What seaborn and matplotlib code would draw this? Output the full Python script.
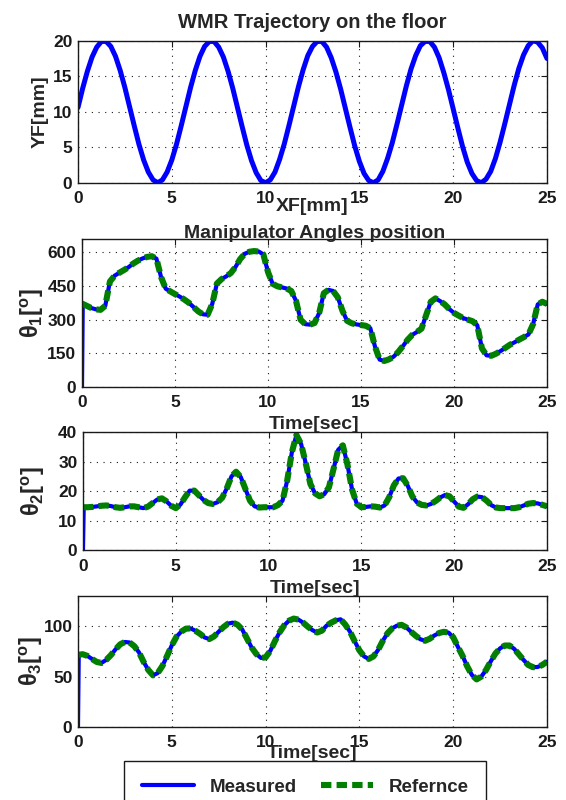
import numpy as np
import matplotlib
matplotlib.use("Agg")
import matplotlib.pyplot as plt
import seaborn as sns

# ----------------------------
# Data
# ----------------------------
# WMR trajectory on the floor, sampled every 0.25 mm of XF
xf = np.linspace(0, 25, 101)
yf = [10.6, 13.3, 15.7, 17.7, 19.1, 19.9, 19.9, 19.2, 17.8, 15.8,
      13.4, 10.7, 8.0, 5.4, 3.2, 1.5, 0.4, 0.0, 0.4, 1.5,
      3.2, 5.4, 8.0, 10.7, 13.4, 15.8, 17.8, 19.2, 19.9, 19.9,
      19.1, 17.7, 15.7, 13.3, 10.6, 7.9, 5.3, 3.1, 1.4, 0.3,
      0.0, 0.4, 1.5, 3.3, 5.5, 8.1, 10.8, 13.5, 15.9, 17.9,
      19.2, 19.9, 19.9, 19.1, 17.6, 15.6, 13.2, 10.5, 7.8, 5.2,
      3.0, 1.3, 0.3, 0.0, 0.4, 1.6, 3.4, 5.6, 8.2, 10.9,
      13.6, 16.0, 17.9, 19.3, 19.9, 19.9, 19.1, 17.6, 15.5, 13.1,
      10.4, 7.7, 5.1, 2.9, 1.3, 0.3, 0.0, 0.5, 1.6, 3.4,
      5.7, 8.3, 11.0, 13.7, 16.1, 18.0, 19.3, 20.0, 19.8, 19.0,
      17.5]

# manipulator angles (reference trajectory), sampled every 0.25 s
time = np.linspace(0, 25, 101)
theta1 = [372, 362, 352, 346, 344, 362, 470, 496, 509, 521,
          534, 550, 563, 573, 580, 583, 572, 490, 438, 426,
          414, 403, 390, 375, 356, 337, 324, 322, 370, 461,
          481, 493, 508, 535, 570, 594, 603, 606, 604, 591,
          512, 460, 449, 444, 439, 428, 385, 300, 280, 278,
          285, 330, 418, 433, 428, 400, 340, 295, 284, 279,
          276, 273, 262, 180, 122, 116, 123, 135, 156, 182,
          210, 232, 245, 260, 320, 380, 395, 383, 368, 347,
          330, 318, 307, 300, 293, 275, 172, 141, 139, 148,
          160, 174, 188, 199, 211, 222, 234, 280, 368, 380,
          370]
theta2 = [14.6, 14.6, 14.7, 14.9, 15.1, 15.2, 15.0, 14.6, 14.4, 14.6,
          14.9, 14.9, 14.6, 14.3, 14.8, 16.0, 17.2, 17.6, 16.6, 15.1,
          14.3, 15.5, 18.0, 20.2, 20.2, 18.6, 17.0, 16.0, 15.7, 16.3,
          17.8, 21.0, 25.0, 26.6, 24.8, 20.8, 16.8, 14.9, 14.5, 14.6,
          14.6, 14.6, 15.3, 16.8, 23.5, 33.0, 39.0, 36.0, 29.5, 22.5,
          19.3, 18.3, 19.0, 21.3, 27.5, 34.0, 35.5, 29.0, 20.5, 15.8,
          14.6, 14.7, 14.9, 14.8, 14.5, 15.2, 18.0, 22.0, 24.3, 24.4,
          21.8, 18.2, 16.2, 15.4, 15.2, 15.7, 16.7, 17.9, 18.7, 18.3,
          16.5, 14.8, 14.4, 15.6, 17.3, 18.2, 18.0, 16.8, 15.3, 14.5,
          14.3, 14.3, 14.3, 14.3, 14.6, 15.2, 15.8, 16.0, 15.9, 15.4,
          14.9]
theta3 = [71.5, 72.2, 70.5, 67.4, 64.5, 63.5, 66.5, 71.2, 77.0, 82.0,
          84.3, 83.8, 80.2, 74.0, 64.5, 56.5, 51.2, 53.5, 60.5, 70.5,
          81.0, 89.5, 94.5, 97.5, 97.8, 95.5, 92.5, 88.8, 87.2, 89.8,
          94.5, 99.0, 102.5, 103.5, 101.5, 96.8, 88.0, 79.0, 72.5, 68.5,
          69.0, 75.5, 85.2, 94.0, 101.0, 105.5, 107.5, 106.5, 103.5, 99.5,
          96.0, 93.7, 95.5, 100.5, 103.5, 105.8, 106.8, 101.5, 94.5, 85.0,
          76.0, 70.0, 67.5, 70.0, 76.5, 85.5, 93.0, 97.8, 100.5, 101.3,
          98.8, 94.5, 90.5, 87.0, 85.5, 87.5, 90.8, 93.2, 94.4, 93.6,
          89.0, 79.5, 70.5, 60.0, 51.5, 47.2, 50.0, 56.5, 65.0, 72.8,
          78.0, 80.8, 80.8, 77.5, 72.0, 66.5, 61.5, 59.3, 59.5, 61.5,
          64.8]

# measured signal starts from zero before jumping onto the reference
start_t = [0.0, 0.04]

# ----------------------------
# Style
# ----------------------------
sns.set_theme(style="white")
plt.rcParams["font.family"] = ["Liberation Sans", "DejaVu Sans"]
plt.rcParams["font.weight"] = "bold"
plt.rcParams["axes.labelweight"] = "bold"
plt.rcParams["mathtext.fontset"] = "custom"
plt.rcParams["mathtext.rm"] = "Liberation Sans:bold"
plt.rcParams["mathtext.it"] = "Liberation Sans:bold"
plt.rcParams["mathtext.bf"] = "Liberation Sans:bold"
plt.rcParams["lines.dashed_pattern"] = [1.7, 0.85]

BLUE = "#0000ff"
GREEN = "#007f00"

fig = plt.figure(figsize=(5.66, 8.0), dpi=100)
ax1 = fig.add_axes([0.1378, 0.7716, 0.8286, 0.1775])
ax2 = fig.add_axes([0.1449, 0.5163, 0.8216, 0.1850])
ax3 = fig.add_axes([0.1466, 0.3119, 0.8198, 0.1481])
ax4 = fig.add_axes([0.1378, 0.0913, 0.8286, 0.1638])


def style_axes(ax, ylim, yticks):
    ax.set_xlim(0, 25)
    ax.set_ylim(*ylim)
    ax.set_xticks([0, 5, 10, 15, 20, 25])
    ax.set_yticks(yticks)
    ax.grid(True, color="k", lw=0.8, ls=(0, (1, 5)))
    ax.tick_params(direction="in", length=4, width=0.8, top=True,
                   right=True, labelsize=12.5, colors="k")
    ax.tick_params(axis="x", pad=6)
    ax.tick_params(axis="y", pad=4)
    for sp in ax.spines.values():
        sp.set_color("k")
        sp.set_linewidth(1.0)
    for lab in ax.get_xticklabels() + ax.get_yticklabels():
        lab.set_fontweight("bold")


# ----------------------------
# Panel 1: trajectory on the floor
# ----------------------------
sns.lineplot(x=xf, y=yf, ax=ax1, color=BLUE, lw=3.6, sort=False,
             estimator=None)
style_axes(ax1, (0, 20), [0, 5, 10, 15, 20])
ax1.set_title("WMR Trajectory on the floor", fontsize=14.5,
              fontweight="bold", pad=9)
ax1.set_xlabel("XF[mm]", fontsize=14, va="top")
ax1.xaxis.set_label_coords(0.5, -0.105)
ax1.set_ylabel("YF[mm]", fontsize=14)
ax1.yaxis.set_label_coords(-0.062, 0.5)

# ----------------------------
# Panels 2-4: manipulator angles
# ----------------------------
panels = [
    (ax2, theta1, (0, 660), [0, 150, 300, 450, 600], r"$\theta_1[^o]$"),
    (ax3, theta2, (0, 40), [0, 10, 20, 30, 40], r"$\theta_2[^o]$"),
    (ax4, theta3, (0, 130), [0, 50, 100], r"$\theta_3[^o]$"),
]
label_y = {ax2: -0.195, ax3: -0.25, ax4: -0.135}
label_x = {ax2: -0.078, ax3: -0.078, ax4: -0.070}

for ax, ref, ylim, yticks, ylab in panels:
    meas_t = list(start_t) + list(time[1:])
    meas_v = [0.0, ref[0]] + list(ref[1:])
    sns.lineplot(x=meas_t, y=meas_v, ax=ax, color=BLUE, lw=3.0,
                 sort=False, estimator=None, label="Measured")
    sns.lineplot(x=time, y=ref, ax=ax, color=GREEN, lw=4.4,
                 sort=False, estimator=None, label="Refernce")
    ax.lines[-1].set_linestyle("--")
    style_axes(ax, ylim, yticks)
    ax.set_xlabel("Time[sec]", fontsize=14, va="top")
    ax.xaxis.set_label_coords(0.5, label_y[ax])
    ax.set_ylabel(ylab, fontsize=17)
    ax.yaxis.set_label_coords(label_x[ax], 0.5)
    ax.get_legend().remove()

ax2.set_title("Manipulator Angles position", fontsize=14,
              fontweight="bold", pad=1)

handles, labels = ax4.get_legend_handles_labels()
leg = fig.legend(handles, labels, loc="upper center",
                 bbox_to_anchor=(0.539, 0.04875), ncol=2, frameon=True,
                 fancybox=False, edgecolor="k", framealpha=1,
                 prop={"size": 13.5, "weight": "bold"},
                 handlelength=2.8, columnspacing=1.3, borderpad=0.95,
                 borderaxespad=0)
leg.get_frame().set_linewidth(1.0)

fig.savefig("out.png", dpi=100)
